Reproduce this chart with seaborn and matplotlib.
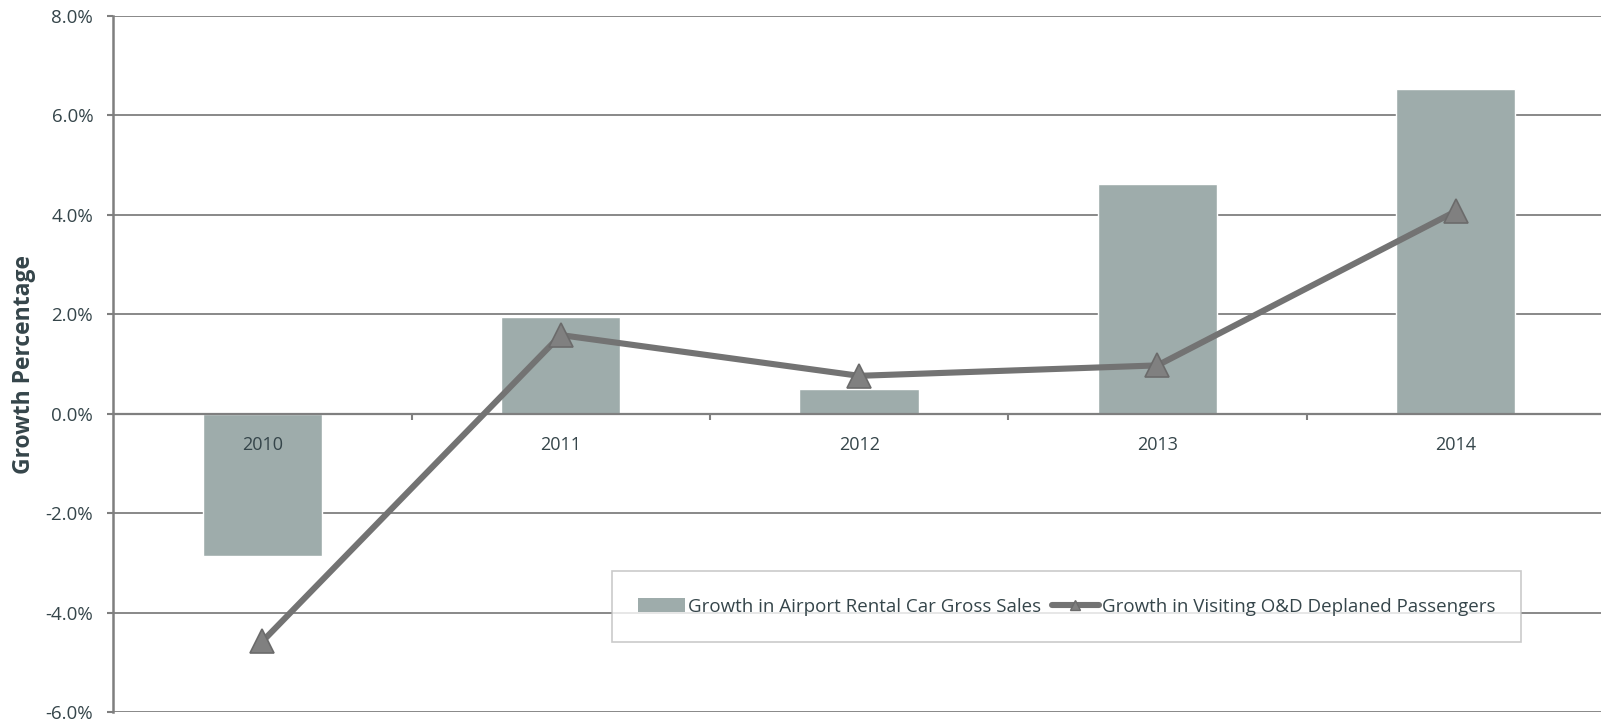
import matplotlib
matplotlib.use("Agg")
import matplotlib.pyplot as plt
from matplotlib.patches import Patch
from matplotlib.lines import Line2D
from matplotlib.ticker import FixedLocator, FuncFormatter
import seaborn as sns
import pandas as pd

# Annual growth figures (percent)
years = ["2010", "2011", "2012", "2013", "2014"]
rental_sales_growth = [-2.87, 1.95, 0.50, 4.61, 6.52]
deplaned_pax_growth = [-4.58, 1.58, 0.76, 0.97, 4.07]

bar_label = "Growth in Airport Rental Car Gross Sales"
line_label = "Growth in Visiting O&D Deplaned Passengers"
y_label = "Growth Percentage"
y_ticks = [-6, -4, -2, 0, 2, 4, 6, 8]

BAR_COLOR = "#9eacab"
LINE_COLOR = "#737373"
MARKER_FACE = "#808080"
MARKER_EDGE = "#6b6b6b"
GRID_COLOR = "#7f7f7f"
TEXT_COLOR = "#35454a"

sns.set_style("white")
plt.rcParams["font.family"] = ["Open Sans", "DejaVu Sans"]

df = pd.DataFrame({"year": years,
                   "sales": rental_sales_growth,
                   "pax": deplaned_pax_growth})

fig = plt.figure(figsize=(16.01, 7.24), dpi=100)
ax = fig.add_axes([113.3 / 1601, 1 - 712 / 724, (1605 - 113.3) / 1601, (712 - 15.8) / 724])

# Horizontal gridlines, kept underneath the bars
for v in y_ticks:
    if v != 0:
        ax.axhline(v, color=GRID_COLOR, linewidth=1.3, zorder=0.8)

sns.barplot(data=df, x="year", y="sales", color=BAR_COLOR, width=0.4,
            saturation=1, errorbar=None, ax=ax, zorder=2)
sns.pointplot(data=df, x="year", y="pax", color=LINE_COLOR, errorbar=None,
              marker="^", markersize=17, linewidth=4.4,
              markerfacecolor=MARKER_FACE, markeredgecolor=MARKER_EDGE,
              markeredgewidth=1.2, ax=ax, zorder=4)

ax.set_xlim(-0.5, 4.5)
ax.set_ylim(-6, 8)
ax.set_xlabel("")
ax.set_ylabel("")
ax.grid(False)

ax.yaxis.set_major_locator(FixedLocator(y_ticks))
ax.yaxis.set_major_formatter(FuncFormatter(lambda v, _: f"{v:.1f}%"))
ax.tick_params(axis="y", which="major", left=True, length=4.5, width=1.5,
               color=GRID_COLOR, pad=10, labelsize=13.5, labelcolor=TEXT_COLOR)

# Category axis sits on the zero line, labels drawn over the bars
for side in ("top", "right"):
    ax.spines[side].set_visible(False)
ax.spines["bottom"].set_position(("data", 0))
ax.spines["bottom"].set_color(GRID_COLOR)
ax.spines["bottom"].set_linewidth(1.6)
ax.spines["bottom"].set_zorder(3)
ax.spines["left"].set_color(GRID_COLOR)
ax.spines["left"].set_linewidth(1.8)
ax.xaxis.set_zorder(3.5)

ax.xaxis.set_minor_locator(FixedLocator([0.5, 1.5, 2.5, 3.5]))
ax.tick_params(axis="x", which="major", bottom=True, length=0, pad=16,
               labelsize=13, labelcolor=TEXT_COLOR)
ax.tick_params(axis="x", which="minor", bottom=True, length=4, width=1.5,
               color=GRID_COLOR)

fig.text(24.5 / 1601, 1 - 364 / 724, y_label, rotation=90, ha="center",
         va="center", fontsize=16.5, fontweight="bold", color=TEXT_COLOR)

handles = [
    Patch(facecolor=BAR_COLOR, edgecolor="none", label=bar_label),
    Line2D([], [], color=LINE_COLOR, linewidth=4.4, solid_capstyle="round",
           marker="^", markersize=7, markerfacecolor=MARKER_FACE,
           markeredgecolor=MARKER_EDGE, label=line_label),
]
leg = ax.legend(handles=handles, loc="center", bbox_to_anchor=(0.639, 0.1515),
                ncol=2, frameon=True, fancybox=False, fontsize=13.5,
                handlelength=2.5, handletextpad=0.15, columnspacing=0.6,
                borderpad=1.4, borderaxespad=0)
leg.get_frame().set_edgecolor("#bdbdbd")
leg.get_frame().set_linewidth(1.2)
for t in leg.get_texts():
    t.set_color(TEXT_COLOR)

fig.savefig("out.png", dpi=100)
